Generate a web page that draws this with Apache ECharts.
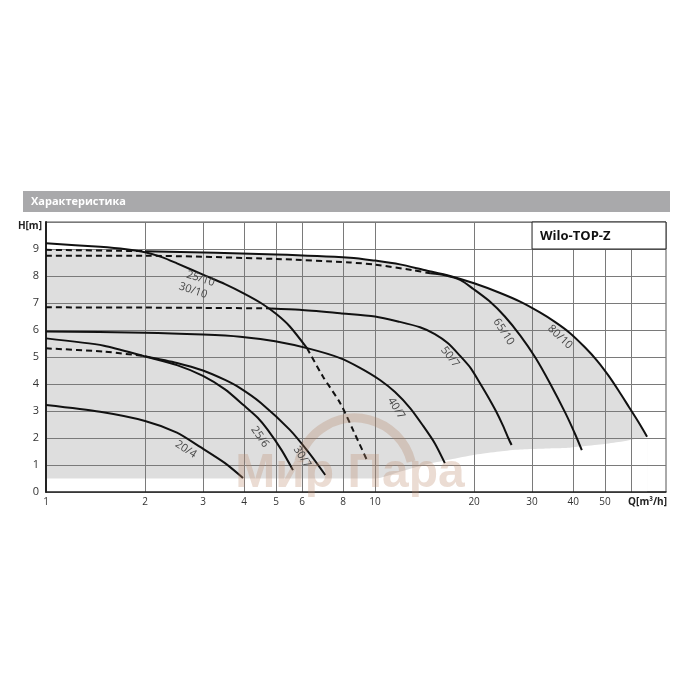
<!DOCTYPE html>
<html><head><meta charset="utf-8">
<script src="https://cdn.jsdelivr.net/npm/echarts@6/dist/echarts.min.js"></script>
<style>html,body{margin:0;padding:0;background:#fff}#c{width:700px;height:700px}</style>
</head><body><div id="c"></div>
<script>
// ---- tick labels / grid lines ----
const tickLabelsQ = [1, 2, 3, 4, 5, 6, 8, 10, 20, 30, 40, 50];
const gridLinesQ = [2, 3, 4, 5, 6, 8, 10, 20, 30, 40, 50, 60];

// ---- shaded operating envelope ----
const envQ      = [1,   2,    5,   8.4,  10,   11.9, 14.1, 16.9, 20.1, 23.9, 27.6, 31.7, 35.2, 39.0, 43.5, 47.4, 51.3, 55.0, 59.1, 63.1, 67.1];
const envTop    = [9.0, 8.92, 8.8, 8.68, 8.57, 8.43, 8.22, 8.0,  7.72, 7.38, 7.05, 6.65, 6.3,  5.9,  5.35, 4.85, 4.3,  3.75, 3.15, 2.6,  2.05];
const envBottom = [0.5, 0.5,  0.5, 0.5,  0.5,  0.75, 1.0,  1.2,  1.38, 1.5,  1.57, 1.6,  1.62, 1.64, 1.7,  1.75, 1.8,  1.85, 1.92, 1.98, 2.04];

// ---- pump curves [Q m3/h, H m] ----
const c20_4 = [[1,3.22],[1.46,2.97],[2,2.63],[2.5,2.2],[2.94,1.67],[3.5,1.07],[3.97,0.52]];
const c25_6 = [[1,5.69],[1.5,5.42],[2,5.02],[2.5,4.7],[3,4.3],[3.5,3.8],[4,3.2],[4.4,2.75],[4.72,2.3],[5.2,1.55],[5.63,0.81]];
const c30_7dash = [[1,5.32],[1.5,5.2],[2,5.03]];
const c30_7 = [[2,5.03],[2.5,4.78],[3,4.5],[3.5,4.15],[3.89,3.85],[4.5,3.3],[5.51,2.3],[6.3,1.45],[7.06,0.63]];
const c40_7 = [[1,5.94],[2,5.9],[3,5.83],[3.89,5.75],[4.97,5.58],[6.34,5.3],[7.83,4.96],[9.0,4.6],[10.35,4.15],[11.5,3.7],[12.8,3.1],[14.0,2.45],[15.2,1.8],[16.3,1.07]];
const c50_7dash = [[1,6.84],[2,6.83],[3,6.82],[4.83,6.8]];
const c50_7 = [[4.83,6.8],[5.9,6.75],[7.83,6.62],[10,6.5],[11.9,6.3],[13.7,6.1],[15.2,5.85],[16.7,5.5],[18.1,5.05],[19.5,4.6],[20.8,4.05],[22.0,3.55],[23.3,3.0],[24.5,2.45],[25.4,2.0],[26.0,1.74]];
const c25_10 = [[1,9.21],[1.46,9.08],[1.75,8.99],[2,8.88],[2.25,8.7],[2.5,8.47],[3,8.05],[3.5,7.7],[4,7.35],[4.5,7.0],[5,6.6],[5.5,6.14],[6.21,5.33]];
const c30_10dash = [[6.21,5.33],[6.95,4.27],[7.83,3.3],[8.57,2.3],[9.44,1.19]];
const c80_10dash = [[1,8.97],[2,8.92]];
const c80_10 = [[2,8.92],[5,8.8],[8.4,8.68],[10,8.57],[11.9,8.43],[14.1,8.22],[16.9,8.0],[20.1,7.72],[23.9,7.38],[27.6,7.05],[31.7,6.65],[35.2,6.3],[39.0,5.9],[43.5,5.35],[47.4,4.85],[51.3,4.3],[55.0,3.75],[59.1,3.15],[63.1,2.6],[67.1,2.05]];
const c65_10dash = [[1,8.75],[2,8.75],[5,8.63],[8.4,8.5],[10,8.42],[13,8.22],[14.7,8.1]];
const c65_10 = [[14.7,8.1],[16.3,8.03],[18.2,7.85],[19.9,7.52],[22.2,7.08],[24.8,6.5],[27.6,5.8],[30.7,4.98],[34.1,4.0],[37.9,2.92],[40.6,2.13],[42.5,1.55]];

// ---- curve names, with anchor [Q, H] and rotation (deg) ----
const curveLabels = [
  {text:'20/4',  at:[2.66,1.58], rot:33},
  {text:'25/6',  at:[4.47,2.04], rot:55},
  {text:'30/7',  at:[6.0,1.3],   rot:57},
  {text:'40/7',  at:[11.6,3.1],  rot:58},
  {text:'50/7',  at:[16.9,5.0],  rot:52},
  {text:'65/10', at:[24.6,5.93], rot:57},
  {text:'80/10', at:[36.5,5.74], rot:43},
  {text:'25/10', at:[2.95,7.9],  rot:18},
  {text:'30/10', at:[2.8,7.46],  rot:18}
];

const zip = (a, b) => a.map((v, i) => [v, b[i]]);
const FONT = 'Open Sans';

function curve(data, dashed) {
  return {
    type: 'line', data: data, smooth: 0.25, symbol: 'none', silent: true, z: 10,
    lineStyle: {color: '#111', width: 2, type: dashed ? [6, 4] : 'solid'}
  };
}

const chart = echarts.init(document.getElementById('c'), null, {renderer: 'canvas'});
chart.setOption({
  animation: false,
  backgroundColor: '#fff',
  textStyle: {fontFamily: FONT},
  grid: {left: 46, right: 34, top: 222, bottom: 208, show: true, borderColor: '#555', borderWidth: 1},
  xAxis: {
    type: 'log', logBase: 10, min: 1, max: 76.6, z: 5,
    axisLine: {show: true, onZero: false, lineStyle: {color: '#222', width: 1.5}},
    axisTick: {show: false}, axisLabel: {show: false}, splitLine: {show: false}
  },
  yAxis: {
    type: 'value', min: 0, max: 10, interval: 1, z: 5,
    axisLine: {show: true, lineStyle: {color: '#222', width: 2}},
    axisTick: {show: false},
    axisLabel: {formatter: v => (v === 10 ? '' : String(v)), color: '#333', fontSize: 11, margin: 7, fontFamily: FONT},
    splitLine: {show: true, lineStyle: {color: '#7a7a7a', width: 1}}
  },
  series: [
    {type: 'line', data: zip(envQ, envTop), smooth: 0.25, symbol: 'none', silent: true, z: 1,
     lineStyle: {opacity: 0}, areaStyle: {color: '#dedede', opacity: 1}},
    {type: 'line', data: zip(envQ, envBottom), smooth: 0.25, symbol: 'none', silent: true, z: 1,
     lineStyle: {opacity: 0}, areaStyle: {color: '#ffffff', opacity: 1}},
    {type: 'line', data: [], z: 5, silent: true,
     markLine: {symbol: ['none', 'none'], silent: true, animation: false, label: {show: false},
       lineStyle: {color: '#7a7a7a', width: 1, type: 'solid'},
       data: gridLinesQ.map(q => ({xAxis: q}))}},
    curve(c20_4, false),
    curve(c25_6, false),
    curve(c30_7dash, true),
    curve(c30_7, false),
    curve(c40_7, false),
    curve(c50_7dash, true),
    curve(c50_7, false),
    curve(c25_10, false),
    curve(c30_10dash, true),
    curve(c80_10dash, true),
    curve(c80_10, false),
    curve(c65_10dash, true),
    curve(c65_10, false)
  ]
});

const px = (q, h) => chart.convertToPixel({gridIndex: 0}, [q, h]);
const g = [];
// header bar
g.push({type: 'rect', z: 100, shape: {x: 23, y: 191, width: 647, height: 21}, style: {fill: '#a9a9ab'}});
g.push({type: 'text', z: 101, x: 31, y: 202, style: {text: 'Характеристика', fill: '#fff', font: 'bold 11px "Open Sans"', textVerticalAlign: 'middle'}});
// x tick labels
tickLabelsQ.forEach(q => {
  const p = px(q, 0);
  g.push({type: 'text', z: 50, x: p[0], y: p[1] + 10,
    style: {text: String(q), fill: '#333', font: '10px "Open Sans"', textAlign: 'center', textVerticalAlign: 'middle'}});
});
const pb = px(76.6, 0);
g.push({type: 'text', z: 50, x: pb[0] + 1, y: pb[1] + 10,
  style: {text: 'Q[m³/h]', fill: '#222', font: 'bold 10px "Open Sans"', textAlign: 'right', textVerticalAlign: 'middle'}});
const pt = px(1, 10);
g.push({type: 'text', z: 50, x: pt[0] - 4, y: pt[1] + 4,
  style: {text: 'H[m]', fill: '#222', font: 'bold 10px "Open Sans"', textAlign: 'right', textVerticalAlign: 'middle'}});
// model box
const b0 = px(30, 10), b1 = px(76.6, 9);
g.push({type: 'rect', z: 60, shape: {x: b0[0], y: b0[1], width: b1[0] - b0[0], height: b1[1] - b0[1]},
  style: {fill: '#fff', stroke: '#222', lineWidth: 1}});
g.push({type: 'text', z: 61, x: b0[0] + 8, y: (b0[1] + b1[1]) / 2 + 1,
  style: {text: 'Wilo-TOP-Z', fill: '#111', font: 'bold 13px "Open Sans"', textVerticalAlign: 'middle'}});
// curve names
curveLabels.forEach(l => {
  const p = px(l.at[0], l.at[1]);
  g.push({type: 'text', z: 40, x: p[0], y: p[1], rotation: -l.rot * Math.PI / 180,
    style: {text: l.text, fill: '#444', font: '11px "Open Sans"', textAlign: 'center', textVerticalAlign: 'middle'}});
});
// watermark
g.push({type: 'arc', z: 30, shape: {cx: 355, cy: 476, r: 58, startAngle: Math.PI * 1.08, endAngle: Math.PI * 1.92},
  style: {stroke: 'rgba(175,125,95,0.28)', lineWidth: 9, fill: null}});
g.push({type: 'text', z: 31, x: 350, y: 474,
  style: {text: 'Мир Пара', fill: 'rgba(190,140,110,0.3)', font: 'bold 48px "Liberation Sans"', textAlign: 'center', textVerticalAlign: 'middle'}});
chart.setOption({graphic: g});
</script>
</body></html>
